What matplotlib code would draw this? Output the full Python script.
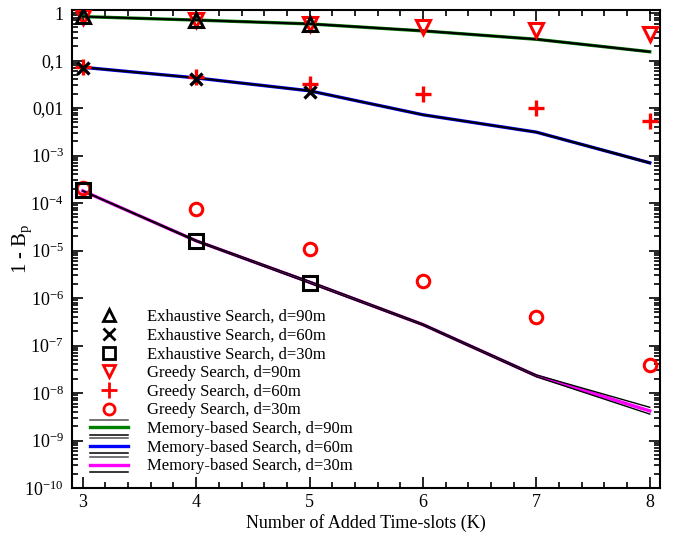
import numpy as np
import matplotlib
matplotlib.use("Agg")
import matplotlib.pyplot as plt
from matplotlib.lines import Line2D
from matplotlib.legend_handler import HandlerBase
from matplotlib.ticker import FixedLocator, FuncFormatter, AutoMinorLocator, LogLocator

plt.rcParams["font.family"] = ["Liberation Serif", "DejaVu Serif"]
plt.rcParams["mathtext.fontset"] = "custom"
plt.rcParams["mathtext.rm"] = "Liberation Serif"
plt.rcParams["mathtext.it"] = "Liberation Serif:italic"

# --- data ---
K = [3, 4, 5, 6, 7, 8]
K_exh = [3, 4, 5]

exh_90 = [0.86, 0.71, 0.58]
exh_60 = [0.070, 0.041, 0.022]
exh_30 = [1.85e-4, 1.55e-5, 2.1e-6]

greedy_90 = [0.82, 0.70, 0.60, 0.50, 0.44, 0.37]
greedy_60 = [0.072, 0.046, 0.032, 0.0197, 0.0098, 0.0052]
greedy_30 = [2.1e-4, 7.4e-5, 1.07e-5, 2.3e-6, 4.0e-7, 3.9e-8]

mem_90 = [0.84, 0.71, 0.59, 0.42, 0.28, 0.153]
mem_60 = [0.072, 0.043, 0.023, 0.0072, 0.0031, 7.0e-4]
mem_30 = [1.8e-4, 1.6e-5, 2.15e-6, 2.75e-7, 2.3e-8, 4.2e-9]

# the two thin black companion curves around each memory-based curve
mem_90_hi = [0.85, 0.72, 0.60, 0.43, 0.285, 0.156]
mem_90_lo = [0.83, 0.70, 0.58, 0.415, 0.275, 0.150]
mem_60_hi = [0.073, 0.0435, 0.0233, 0.0073, 0.00315, 7.2e-4]
mem_60_lo = [0.071, 0.0425, 0.0227, 0.0071, 0.00305, 6.8e-4]
mem_30_hi = [1.82e-4, 1.65e-5, 2.25e-6, 2.85e-7, 2.4e-8, 5.0e-9]
mem_30_lo = [1.78e-4, 1.55e-5, 2.05e-6, 2.65e-7, 2.2e-8, 3.6e-9]

yticks = [10.0 ** e for e in range(-10, 1)]


class TripleLine(HandlerBase):
    # black line above, coloured line, black line below
    def __init__(self, color, gap=5.4):
        super().__init__()
        self.color = color
        self.gap = gap

    def create_artists(self, legend, orig_handle, xdescent, ydescent,
                       width, height, fontsize, trans):
        yc = height / 2 - ydescent
        x0, x1 = -xdescent, width - xdescent
        arts = [
            Line2D([x0, x1], [yc + self.gap] * 2, color="0.3", lw=1.1),
            Line2D([x0, x1], [yc] * 2, color=self.color, lw=2.4),
            Line2D([x0, x1], [yc - self.gap] * 2, color="black", lw=1.1),
        ]
        for a in arts:
            a.set_transform(trans)
        return arts


def ytick_fmt(v, pos):
    e = int(round(np.log10(v)))
    if e == 0:
        return "1"
    if e == -1:
        return "0,1"
    if e == -2:
        return "0,01"
    return r"$10^{%d}$" % e


fig = plt.figure(figsize=(6.77, 5.37), dpi=100)
ax = fig.add_axes([72 / 677, 49 / 537, 588 / 677, 478 / 537])
ax.set_yscale("log")

mems = [(mem_90, mem_90_hi, mem_90_lo, "green"),
        (mem_60, mem_60_hi, mem_60_lo, "blue"),
        (mem_30, mem_30_hi, mem_30_lo, "magenta")]
for mid, hi, lo, col in mems:
    ax.plot(K, mid, color=col, lw=2.4, zorder=2)
    ax.plot(K, hi, color="black", lw=1.0, zorder=3)
    ax.plot(K, lo, color="black", lw=1.0, zorder=3)

red = "#ff0000"
ax.plot(K, greedy_90, ls="none", marker="v", ms=10, mfc="none", mec=red, mew=2.2, zorder=4)
ax.plot(K, greedy_60, ls="none", marker="+", ms=12, mec=red, mew=2.4, zorder=4)
ax.plot(K, greedy_30, ls="none", marker="o", ms=9, mfc="none", mec=red, mew=2.2, zorder=4)

ax.plot(K_exh, exh_90, ls="none", marker="^", ms=10, mfc="none", mec="black", mew=2.2, zorder=5)
ax.plot(K_exh, exh_60, ls="none", marker="x", ms=9, mec="black", mew=2.4, zorder=5)
ax.plot(K_exh, exh_30, ls="none", marker="s", ms=10, mfc="none", mec="black", mew=2.2, zorder=5)

ax.set_xlim(2.905, 8.09)
ax.set_ylim(1e-10, 1.157)
ax.xaxis.set_major_locator(FixedLocator(K))
ax.xaxis.set_minor_locator(AutoMinorLocator(5))
ax.yaxis.set_major_locator(FixedLocator(yticks))
ax.yaxis.set_minor_locator(LogLocator(base=10, subs=np.arange(2, 10), numticks=20))
ax.yaxis.set_major_formatter(FuncFormatter(ytick_fmt))
ax.tick_params(which="both", direction="in", top=True, right=True, labelsize=13, width=1.2)
ax.tick_params(which="major", length=8)
ax.tick_params(axis="x", which="major", pad=4)
ax.tick_params(axis="y", which="major", pad=6)
ax.tick_params(which="minor", length=4)
for s in ax.spines.values():
    s.set_linewidth(1.5)

ax.set_xlabel("Number of Added Time-slots (K)", fontsize=13)
ax.set_ylabel(r"1 - B$_\mathrm{p}$", fontsize=15)
ax.xaxis.set_label_coords(0.5, -0.073)
ax.yaxis.set_label_coords(-0.085, 0.5)
ax.xaxis.label.set_va("center")
ax.yaxis.label.set_va("center")

mk = dict(ls="none", ms=9, mew=2.0)
handles = [
    Line2D([], [], marker="^", mfc="none", mec="black", **mk),
    Line2D([], [], marker="x", mec="black", **mk),
    Line2D([], [], marker="s", mfc="none", mec="black", **mk),
    Line2D([], [], marker="v", mfc="none", mec=red, **mk),
    Line2D([], [], marker="+", mec=red, **dict(mk, ms=11)),
    Line2D([], [], marker="o", mfc="none", mec=red, **dict(mk, ms=8)),
    Line2D([], [], color="green"),
    Line2D([], [], color="blue"),
    Line2D([], [], color="magenta"),
]
labels = [
    "Exhaustive Search, d=90m",
    "Exhaustive Search, d=60m",
    "Exhaustive Search, d=30m",
    "Greedy Search, d=90m",
    "Greedy Search, d=60m",
    "Greedy Search, d=30m",
    "Memory-based Search, d=90m",
    "Memory-based Search, d=60m",
    "Memory-based Search, d=30m",
]
hmap = {handles[6]: TripleLine("green"),
        handles[7]: TripleLine("blue"),
        handles[8]: TripleLine("magenta")}
ax.legend(handles, labels, handler_map=hmap, loc="upper left",
          bbox_to_anchor=(90 / 677, 1 - 309 / 537), bbox_transform=fig.transFigure,
          frameon=False, fontsize=12, labelspacing=0.16, handlelength=2.3,
          handletextpad=1.1, borderpad=0, borderaxespad=0)

fig.savefig("out.png", dpi=100)
